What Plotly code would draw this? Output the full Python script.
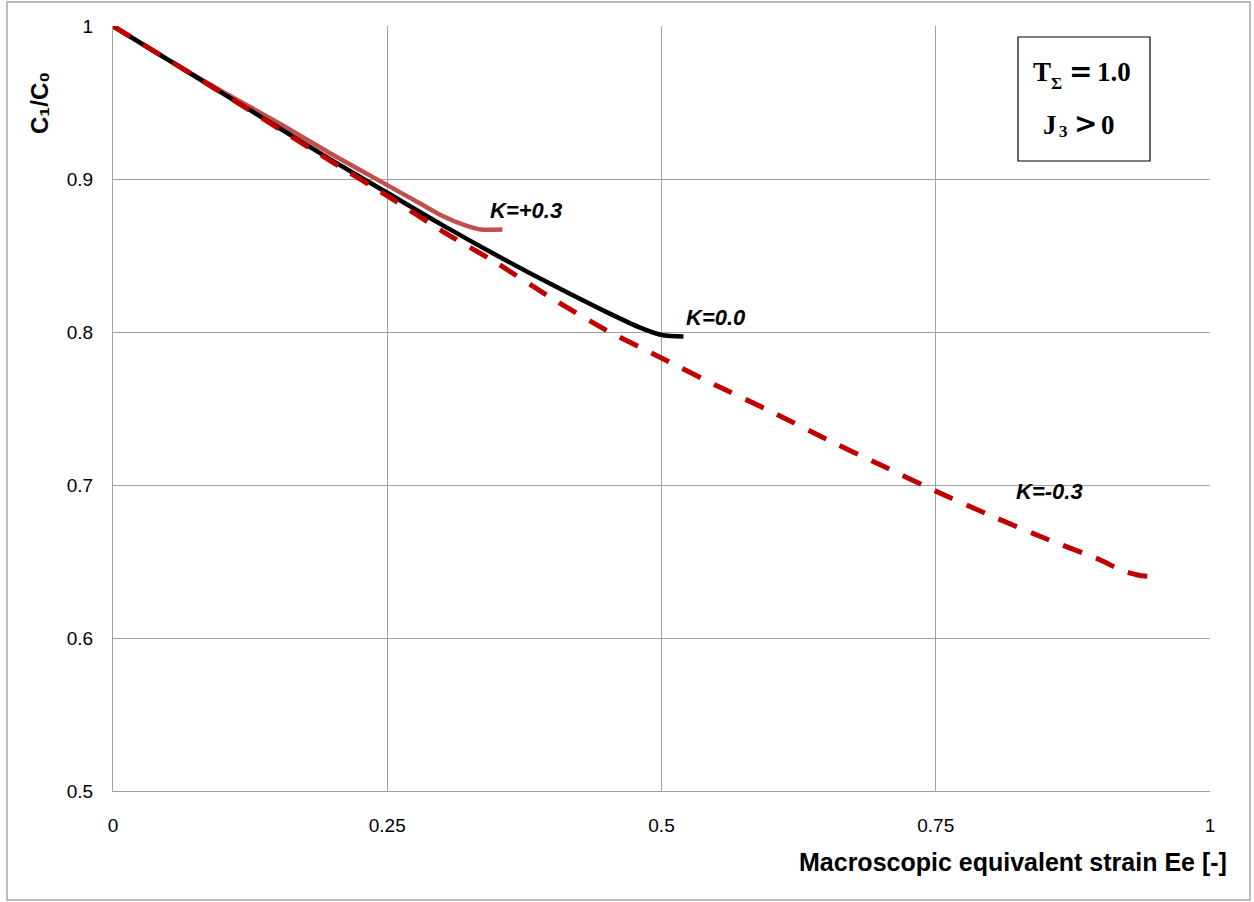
import plotly.graph_objects as go

# Data
x_kp03 = [0, 0.05, 0.10, 0.15, 0.20, 0.25, 0.28, 0.30, 0.32, 0.335, 0.355]
y_kp03 = [1.0, 0.978, 0.957, 0.937, 0.916, 0.896, 0.884, 0.876, 0.870, 0.867, 0.867]

x_k00 = [0, 0.05, 0.10, 0.15, 0.20, 0.25, 0.30, 0.35, 0.40, 0.45, 0.48, 0.50, 0.52]
y_k00 = [1.0, 0.978, 0.956, 0.934, 0.912, 0.891, 0.870, 0.850, 0.831, 0.813, 0.803, 0.798, 0.797]

x_km03 = [0, 0.10, 0.20, 0.25, 0.30, 0.35, 0.40, 0.45, 0.50, 0.55, 0.60, 0.65, 0.70,
          0.75, 0.80, 0.85, 0.90, 0.92, 0.935, 0.95]
y_km03 = [1.0, 0.956, 0.911, 0.889, 0.866, 0.845, 0.822, 0.801, 0.783, 0.765, 0.748,
          0.730, 0.713, 0.696, 0.680, 0.665, 0.651, 0.644, 0.641, 0.640]

x_ticks = [0, 0.25, 0.5, 0.75, 1]
x_tick_labels = ["0", "0.25", "0.5", "0.75", "1"]
y_ticks = [0.5, 0.6, 0.7, 0.8, 0.9, 1.0]
y_tick_labels = ["0.5", "0.6", "0.7", "0.8", "0.9", "1"]

W, H = 1254, 902
L, R, T, B = 113, 1210, 26, 791
pw, ph = R - L, B - T


def px(xp):
    return (xp - L) / pw


def py(yp):
    return (B - yp) / ph


fig = go.Figure()
fig.add_trace(go.Scatter(x=x_kp03, y=y_kp03, mode="lines",
                         line=dict(color="#C0504D", width=4.5, shape="spline", smoothing=0.8),
                         showlegend=False, hoverinfo="skip"))
fig.add_trace(go.Scatter(x=x_k00, y=y_k00, mode="lines",
                         line=dict(color="#000000", width=4.5, shape="spline", smoothing=0.8),
                         showlegend=False, hoverinfo="skip"))
fig.add_trace(go.Scatter(x=x_km03, y=y_km03, mode="lines",
                         line=dict(color="#C00000", width=5, dash="20px,15px", shape="spline", smoothing=0.6),
                         showlegend=False, hoverinfo="skip"))

SANS = "Liberation Sans, Arial, DejaVu Sans, sans-serif"
SERIF = "Liberation Serif, DejaVu Serif, serif"
tick_font = dict(family=SANS, size=19, color="#000")
fig.update_xaxes(range=[0, 1], tickvals=x_ticks, ticktext=x_tick_labels, showgrid=True,
                 gridcolor="#A0A0A0", gridwidth=1, showline=True, linecolor="#A0A0A0", linewidth=1,
                 zeroline=False, ticks="", tickfont=tick_font, ticklabelstandoff=17)
fig.update_yaxes(range=[0.5, 1], tickvals=y_ticks, ticktext=y_tick_labels, showgrid=True,
                 gridcolor="#A0A0A0", gridwidth=1, showline=True, linecolor="#A0A0A0", linewidth=1,
                 zeroline=False, ticks="", tickfont=tick_font, ticklabelstandoff=15)

lab_font = dict(family=SANS, size=22, color="#000", weight="bold", style="italic")
big_serif = dict(family=SERIF, size=27, color="#000", weight="bold")
sub_serif = dict(family=SERIF, size=17, color="#000", weight="bold")
op_font = dict(family="DejaVu Sans, sans-serif", size=28, color="#000", weight="bold")


def ann(text, xp, yp, font, xanchor="center", **kw):
    return dict(text=text, x=px(xp), y=py(yp), xref="paper", yref="paper", showarrow=False,
                xanchor=xanchor, yanchor="middle", font=font, **kw)


annotations = [
    ann("K=+0.3", 526, 210, lab_font),
    ann("K=0.0", 716, 317, lab_font),
    ann("K=-0.3", 1049, 491, lab_font),
    # box text: T_Σ = 1.0
    ann("T", 1031, 72, big_serif, xanchor="left"),
    ann("Σ", 1049, 84, sub_serif, xanchor="left"),
    ann("=", 1067, 71, op_font, xanchor="left"),
    ann("1.0", 1095, 72, big_serif, xanchor="left"),
    # J_3 > 0
    ann("J", 1041, 125, big_serif, xanchor="left"),
    ann("3", 1057, 132, sub_serif, xanchor="left"),
    ann(">", 1072, 124, op_font, xanchor="left"),
    ann("0", 1099, 125, big_serif, xanchor="left"),
    # axis titles
    ann("C₁/C₀", 40, 103, dict(family=SANS, size=24, color="#000", weight="bold"), textangle=-90),
    ann("Macroscopic equivalent strain Ee [-]", 1229, 862, dict(family=SANS, size=25, color="#000", weight="bold"),
        xanchor="right"),
]

shapes = [
    dict(type="rect", xref="paper", yref="paper", x0=px(1018), x1=px(1150), y0=py(161), y1=py(37),
         line=dict(color="#000", width=1.2), fillcolor="white", layer="above"),
    dict(type="rect", xref="paper", yref="paper", x0=px(7), x1=px(1250), y0=py(900), y1=py(2),
         line=dict(color="#A6A6A6", width=1.5), layer="below"),
]

fig.update_layout(width=W, height=H, margin=dict(l=L, r=W - R, t=T, b=H - B),
                  paper_bgcolor="white", plot_bgcolor="white",
                  annotations=annotations, shapes=shapes)

fig.write_html("out.html")
